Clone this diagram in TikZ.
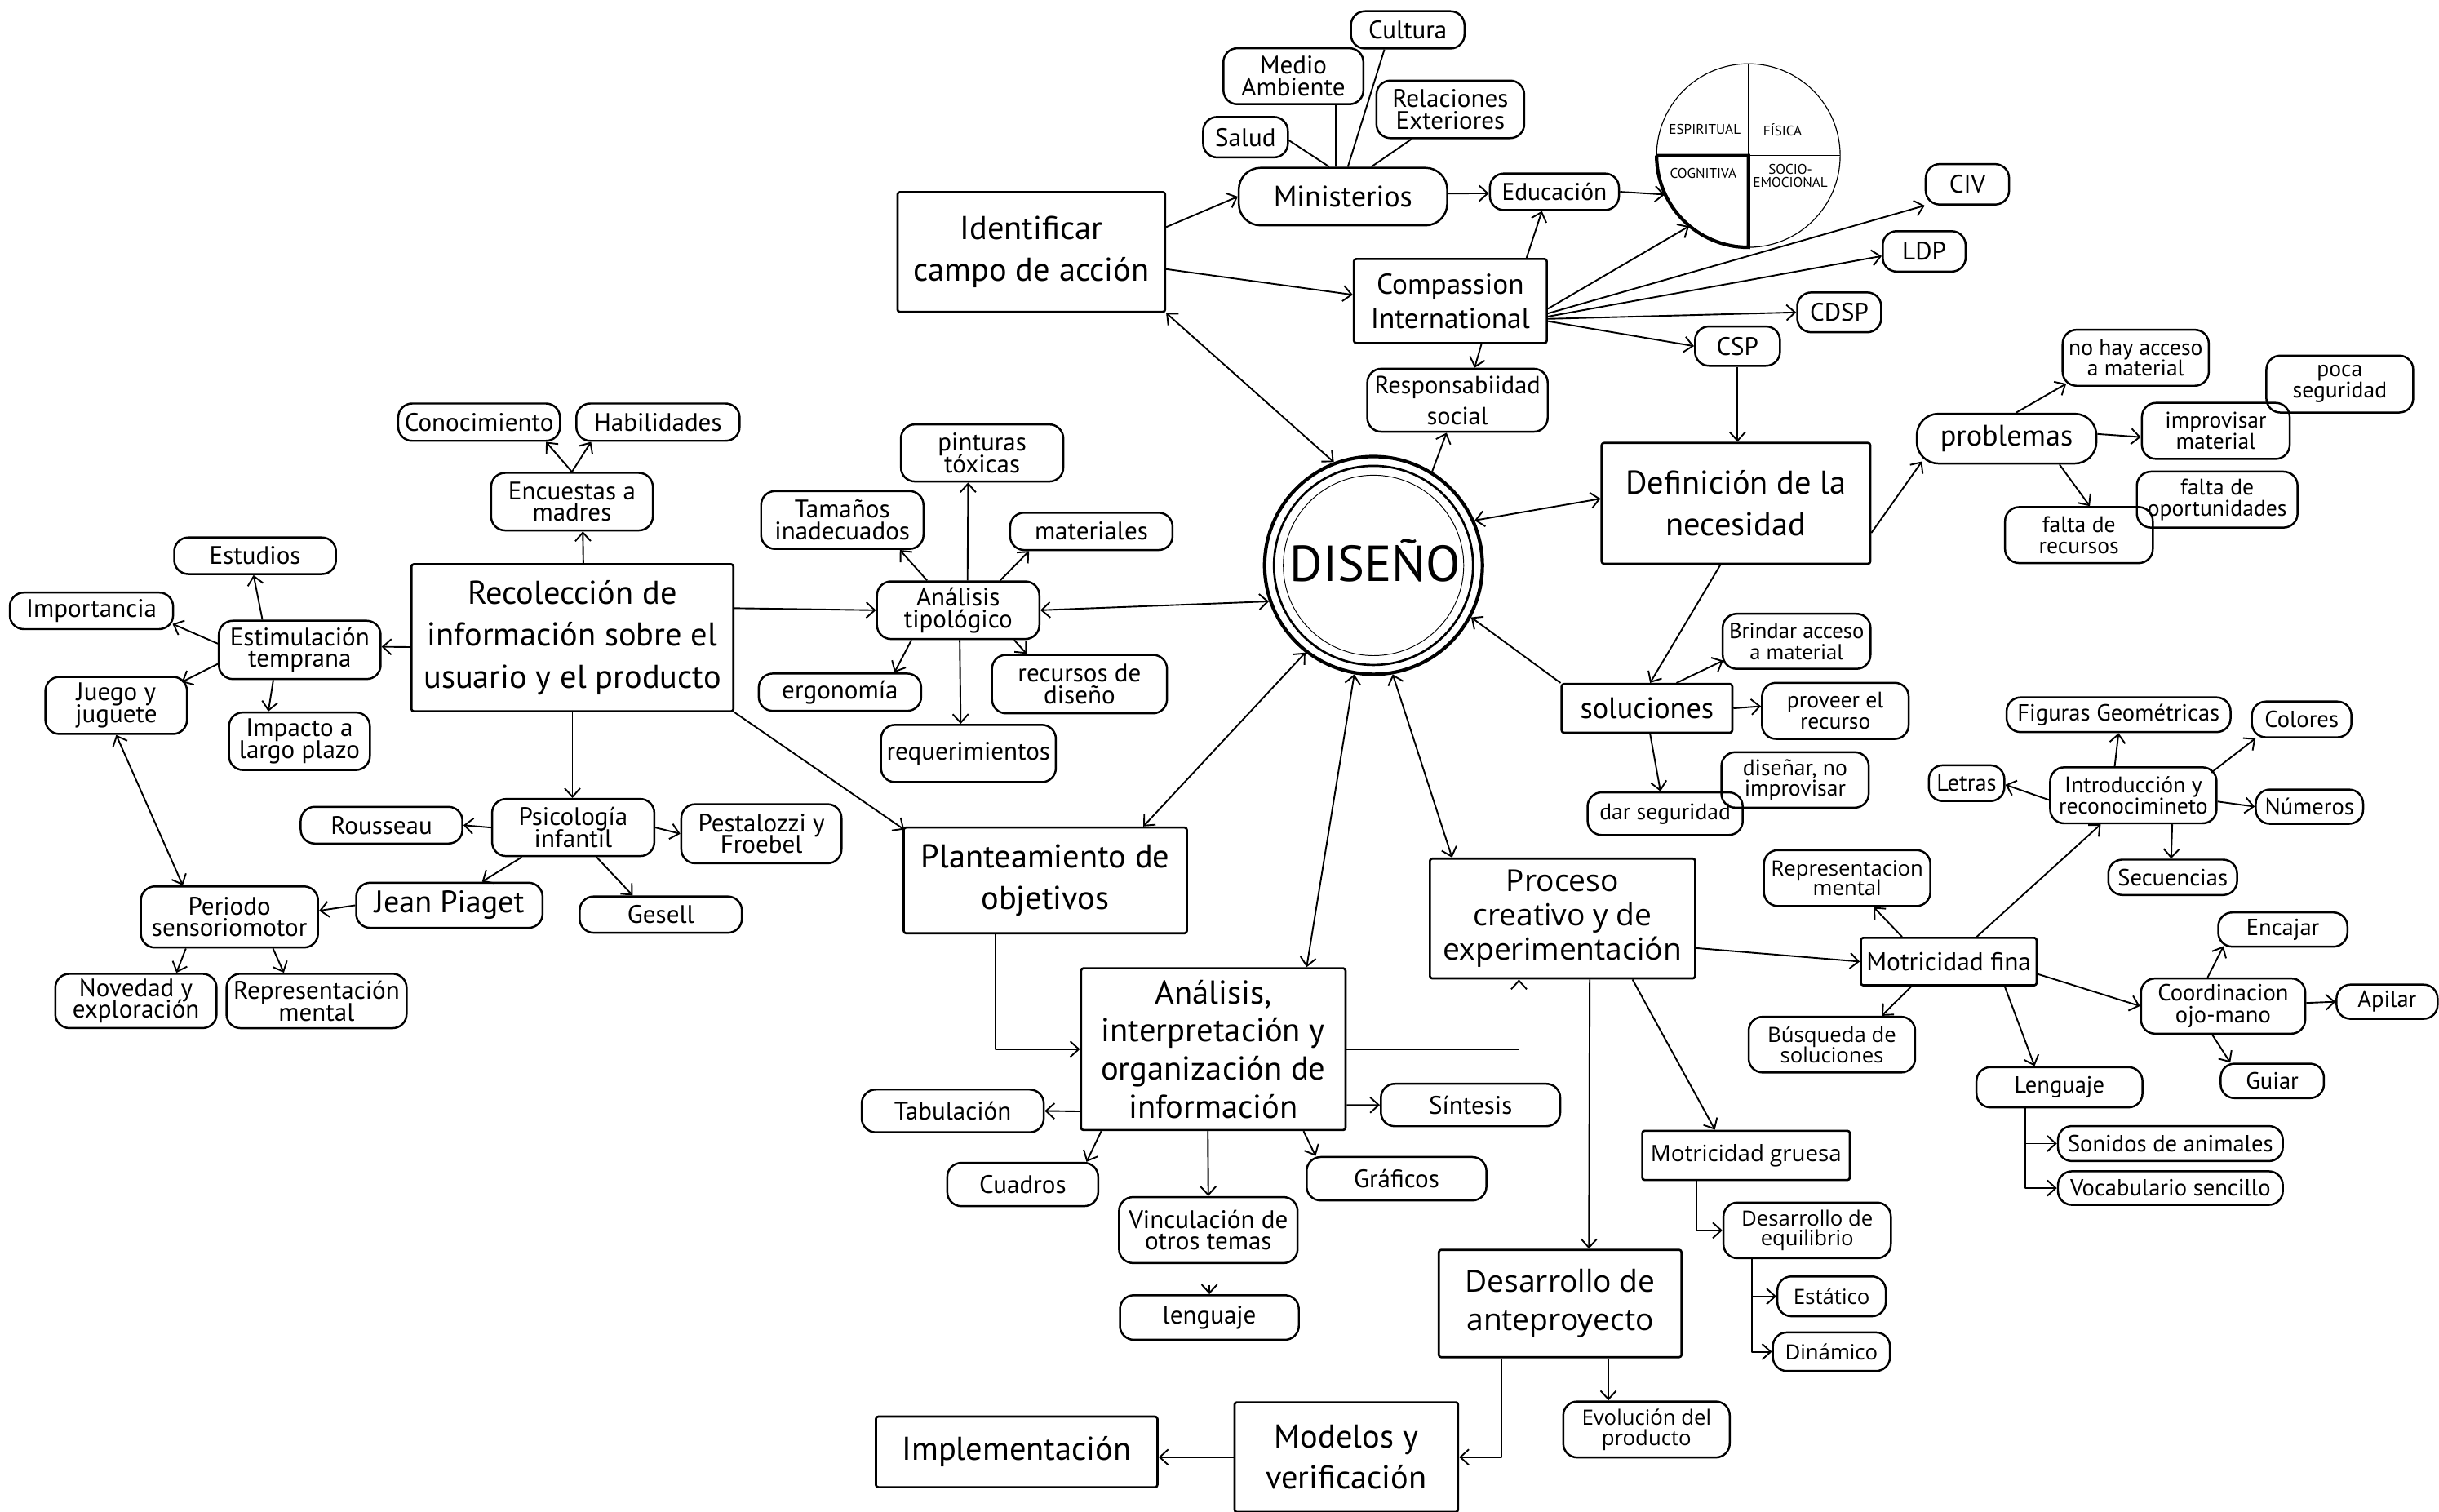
\documentclass[tikz,border=0pt]{standalone}
\usepackage{fontspec}
\setmainfont{PT Sans}
\newfontfamily\widefont{Open Sans}
\usetikzlibrary{arrows.meta,calc}
\newcommand\myfz[2]{\fontsize{#1}{#2}\selectfont\lineskiplimit=-100pt\relax}
\tikzset{
 box/.style={draw, line width=1.4pt, rounded corners=1.5pt, align=center, inner sep=0pt},
 rb/.style={draw, line width=1.3pt, rounded corners=9pt, align=center, inner sep=0pt},
 big/.style={box, font=\myfz{21.2}{27}},
 sm/.style={rb, font=\myfz{16.3}{14}},
 ws/.style={rb, font={\widefont\myfz{13.5}{13}}},
 arr/.style={line width=1pt, -{Straight Barb[length=5.5pt,width=10pt]}},
 darr/.style={line width=1pt, {Straight Barb[length=5.5pt,width=10pt]}-{Straight Barb[length=5.5pt,width=10pt]}},
 ln/.style={line width=1pt},
 lab/.style={font=\myfz{9}{8.5}, align=center, inner sep=0pt},
}
\begin{document}
\begin{tikzpicture}[x=1pt, y=-1pt, line join=round]
\useasboundingbox (0,0) rectangle (1568,972);

% ---------------- top cluster
\node[sm, minimum width=73, minimum height=24] (cult) at (905,19.2) {Cultura};
\node[sm, minimum width=90, minimum height=36] (med) at (831.5,49) {Medio\\Ambiente};
\node[sm, minimum width=95, minimum height=37] (rel) at (932.4,70.3) {Relaciones\\Exteriores};
\node[sm, minimum width=54.5, minimum height=26] (sal) at (800.7,88.2) {Salud};
\node[rb, rounded corners=14pt, minimum width=134, minimum height=37, font=\myfz{19}{20}] (mini) at (863.4,126.4) {Ministerios};
\node[sm, minimum width=83, minimum height=23.5, font=\myfz{15.5}{14}] (edu) at (999.3,123.3) {Educación};
\node[big, minimum width=172, minimum height=77] (ident) at (663,162) {Identificar\\campo de acción};
\node[box, minimum width=124, minimum height=54, font=\myfz{18.5}{22}] (comp) at (932.4,193.5) {Compassion\\International};
\node[rb, minimum width=116, minimum height=40.5, font=\myfz{16}{20}] (resp) at (937,257.3) {Responsabiidad\\social};
\node[sm, minimum width=53.6, minimum height=26] (civ) at (1264.8,118.5) {CIV};
\node[sm, minimum width=53.3, minimum height=26] (ldp) at (1237,161.6) {LDP};
\node[sm, minimum width=54, minimum height=25.6] (cdsp) at (1182.4,200.8) {CDSP};
\node[sm, minimum width=54.6, minimum height=25.3] (csp) at (1117,222.5) {CSP};

% quadrant circle
\node[circle, draw, line width=0.6pt, minimum size=118, inner sep=0pt] (circ) at (1124,100) {};
\draw[line width=0.6pt] (1124,41) -- (1124,159);
\draw[line width=0.6pt] (1065,100) -- (1183,100);
\draw[line width=2.2pt, line join=miter] (1065,100) -- (1124,100) -- (1124,159) arc[start angle=90, end angle=180, radius=59];
\node[lab] at (1096,83.3) {ESPIRITUAL};
\node[lab] at (1146,83.3) {FÍSICA};
\node[lab] at (1095,111.5) {COGNITIVA};
\node[lab] at (1151,113) {SOCIO-\\EMOCIONAL};

% ---------------- DISEÑO
\node[circle, draw, line width=2.2pt, minimum size=140, inner sep=0pt] (dis) at (883,363.5) {};
\draw[line width=1.4pt] (dis.center) circle[radius=64];
\draw[line width=0.5pt] (dis.center) circle[radius=58];
\node[anchor=base, font=\myfz{32.5}{33}, inner sep=0pt] (distxt) at (884,374) {DISEÑO};

% ---------------- necesidad
\node[big, minimum width=172.7, minimum height=77.7] (def) at (1116,323.6) {Definición de la\\necesidad};
\node[rb, rounded corners=14pt, minimum width=115.5, minimum height=32, font=\myfz{19}{20}] (prob) at (1290,282) {problemas};
\node[rb, minimum width=94, minimum height=36, font=\myfz{14.5}{13.5}] (nohay) at (1373,230) {no hay acceso\\a material};
\node[rb, minimum width=94.4, minimum height=36.6, font=\myfz{14.5}{13.5}] (poca) at (1504.2,246.9) {poca\\seguridad};
\node[rb, minimum width=95, minimum height=36, font=\myfz{14.5}{13.5}] (improv) at (1424.5,277) {improvisar\\material};
\node[rb, minimum width=103.3, minimum height=36, font=\myfz{14.5}{13.5}] (faltop) at (1425.4,321.2) {falta de\\oportunidades};
\node[rb, minimum width=95, minimum height=36, font=\myfz{14.5}{13.5}] (faltrec) at (1336.5,344) {falta de\\recursos};

\node[box, minimum width=109.7, minimum height=31.3, font=\myfz{19}{20}] (sol) at (1058.8,455.4) {soluciones};
\node[rb, minimum width=95, minimum height=35.4, font=\myfz{14}{13.5}] (brin) at (1155,412.3) {Brindar acceso\\a material};
\node[rb, minimum width=94.3, minimum height=36.1, font=\myfz{14.5}{13.5}] (prov) at (1179.9,457) {proveer el\\recurso};
\node[rb, minimum width=94.7, minimum height=35.7, font=\myfz{14.5}{13.5}] (dise) at (1154,501.4) {diseñar, no\\improvisar};
\node[rb, minimum width=99.7, minimum height=27.4, font=\myfz{14.5}{13.5}] (dar) at (1070.5,523.1) {dar seguridad};

% ---------------- left cluster
\node[big, minimum width=207, minimum height=94.5] (rec) at (368,410) {Recolección de\\información sobre el\\usuario y el producto};
\node[sm, minimum width=104, minimum height=37] (enc) at (367.7,322.5) {Encuestas a\\madres};
\node[sm, minimum width=104, minimum height=24] (cono) at (308,271.4) {Conocimiento};
\node[sm, minimum width=105, minimum height=24] (hab) at (423,271.4) {Habilidades};
\node[sm, minimum width=104, minimum height=23.5] (estu) at (164,357.3) {Estudios};
\node[sm, minimum width=105, minimum height=23.5] (imp) at (58.8,392.7) {Importancia};
\node[sm, minimum width=104, minimum height=37.5] (estim) at (192.7,417.8) {Estimulación\\temprana};
\node[sm, minimum width=91, minimum height=36.7] (juego) at (74.7,453.5) {Juego y\\juguete};
\node[sm, minimum width=90.6, minimum height=37] (impa) at (192.5,476.5) {Impacto a\\largo plazo};
\node[sm, minimum width=104.3, minimum height=36.7] (psi) at (368.5,532) {Psicología\\infantil};
\node[sm, minimum width=104, minimum height=23.6] (rou) at (245.3,530.5) {Rousseau};
\node[sm, minimum width=103, minimum height=38] (pest) at (489.5,536) {Pestalozzi y\\Froebel};
\node[rb, minimum width=119.8, minimum height=29, font=\myfz{20}{20}] (piag) at (288.9,582) {Jean Piaget};
\node[sm, minimum width=104.3, minimum height=23.3] (ges) at (424.8,588) {Gesell};
\node[sm, minimum width=113.9, minimum height=39.3] (per) at (147.5,589.5) {Periodo\\sensoriomotor};
\node[sm, minimum width=103.7, minimum height=34.9] (nov) at (87.4,643.5) {Novedad y\\exploración};
\node[sm, minimum width=115.8, minimum height=35] (repl) at (203.5,643.5) {Representación\\mental};

% ---------------- tipologico
\node[sm, minimum width=104.4, minimum height=36.7] (pint) at (631.4,291.2) {pinturas\\tóxicas};
\node[sm, minimum width=104.4, minimum height=37.2] (tam) at (541.5,334.3) {Tamaños\\inadecuados};
\node[sm, minimum width=104.4, minimum height=24] (mat) at (701.6,341.6) {materiales};
\node[sm, minimum width=104.4, minimum height=37] (tipo) at (616,392.3) {Análisis\\tipológico};
\node[sm, minimum width=104.4, minimum height=24] (erg) at (540,445) {ergonomía};
\node[sm, minimum width=112.5, minimum height=37.6] (recd) at (694,439.8) {recursos de\\diseño};
\node[sm, minimum width=112.4, minimum height=36.8] (req) at (622.6,484.4) {requerimientos};

% ---------------- center bottom
\node[big, minimum width=182, minimum height=68] (plan) at (672,566) {Planteamiento de\\objetivos};
\node[box, minimum width=170, minimum height=104, font=\myfz{21.3}{24.5}] (anal) at (780,674.5) {Análisis,\\interpretación y\\organización de\\información};
\node[sm, minimum width=117, minimum height=27.5] (tab) at (612.5,714.2) {Tabulación};
\node[sm, minimum width=115.3, minimum height=27.3] (sin) at (945.4,710.4) {Síntesis};
\node[sm, minimum width=97, minimum height=27.8] (cuad) at (657.5,761.5) {Cuadros};
\node[sm, minimum width=115.6, minimum height=27.9] (graf) at (897.8,757.8) {Gráficos};
\node[sm, minimum width=114.8, minimum height=42.4] (vinc) at (776.8,790.8) {Vinculación de\\otros temas};
\node[sm, minimum width=115, minimum height=28.7] (leng2) at (777.5,847) {lenguaje};

% ---------------- proceso cluster
\node[box, minimum width=170.5, minimum height=77, font={\widefont\myfz{19.5}{22}}] (proc) at (1004.5,590.5) {Proceso\\creativo y de\\experimentación};
\node[box, minimum width=113, minimum height=30.5, font=\myfz{16.5}{18}] (mf) at (1252.8,618.2) {Motricidad fina};
\node[ws, minimum width=107, minimum height=36] (repr) at (1187.5,564.5) {Representacion\\mental};
\node[ws, minimum width=107, minimum height=35.8] (busq) at (1177.7,671.6) {Búsqueda de\\soluciones};
\node[sm, minimum width=107, minimum height=36, font=\myfz{14.5}{14}] (intro) at (1371.5,511.3) {Introducción y\\reconocimineto};
\node[sm, minimum width=144, minimum height=22.3, font=\myfz{15}{14}] (fig) at (1362,459.5) {Figuras Geométricas};
\node[sm, minimum width=64, minimum height=23, font=\myfz{15}{14}] (col) at (1479.7,462.5) {Colores};
\node[sm, minimum width=48.6, minimum height=23, font=\myfz{15}{14}] (let) at (1264.3,503.5) {Letras};
\node[sm, minimum width=69, minimum height=22, font=\myfz{15}{14}] (num) at (1484.7,518.6) {Números};
\node[sm, minimum width=82.8, minimum height=22.7, font=\myfz{15}{14}] (sec) at (1396.8,564) {Secuencias};
\node[sm, minimum width=105.6, minimum height=35.5, font=\myfz{15}{14}] (coord) at (1429.2,646.8) {Coordinacion\\ojo-mano};
\node[sm, minimum width=83, minimum height=22, font=\myfz{15}{14}] (enc2) at (1467.6,597.6) {Encajar};
\node[sm, minimum width=65, minimum height=22, font=\myfz{15}{14}] (api) at (1534.6,644) {Apilar};
\node[sm, minimum width=66.4, minimum height=22.2, font=\myfz{15}{14}] (gui) at (1460.8,694.9) {Guiar};
\node[sm, minimum width=106.7, minimum height=25.9, font=\myfz{15}{14}] (len) at (1324,699) {Lenguaje};
\node[sm, minimum width=144.6, minimum height=22.5, font=\myfz{15}{14}] (son) at (1395.3,735.2) {Sonidos de animales};
\node[sm, minimum width=144.6, minimum height=21.6, font=\myfz{15}{14}] (voc) at (1395.3,763.8) {Vocabulario sencillo};

\node[box, minimum width=133.4, minimum height=31.6, font={\widefont\myfz{14.5}{16}}] (mg) at (1122.5,742.8) {Motricidad gruesa};
\node[ws, minimum width=107.6, minimum height=35.8] (eq) at (1161.8,791) {Desarrollo de\\equilibrio};
\node[ws, minimum width=69.7, minimum height=25.6] (esta) at (1177.5,833.4) {Estático};
\node[ws, minimum width=75.3, minimum height=24.8] (dina) at (1177.4,869) {Dinámico};
\node[box, minimum width=156, minimum height=69, font={\widefont\myfz{19.5}{25}}] (des) at (1003,838) {Desarrollo de\\anteproyecto};
\node[ws, minimum width=107, minimum height=36] (evol) at (1058.5,919) {Evolución del\\producto};
\node[big, minimum width=143.7, minimum height=70.5, font=\myfz{21.2}{26}] (mod) at (865.5,936.8) {Modelos y\\verificación};
\node[big, minimum width=181, minimum height=45.4] (impl) at (653.6,933.4) {Implementación};

% ================= connectors
% ministerios lines
\draw[ln] ($(mini.north)+(-8.8,0)$) -- ($(sal.east)+(0,2)$);
\draw[ln] ($(mini.north)+(-4.6,0)$) -- ($(med.south)+(27.3,0)$);
\draw[ln] ($(mini.north)+(3.1,0)$) -- ($(cult.south)+(-15,0)$);
\draw[ln] ($(mini.north)+(18.2,0)$) -- ($(rel.south)+(-25,0)$);

\draw[arr] ($(ident.east)+(0,-16)$) -- (mini.west);
\draw[arr] ($(ident.east)+(0,11)$) -- ($(comp.west)+(0,-4)$);
\draw[arr] ($(mini.east)+(0,-2)$) -- ($(edu.west)+(0,1)$);
\draw[arr] (edu.east) -- (circ.205);
\draw[arr] ($(comp.north)+(49,0)$) -- ($(edu.south)+(-8,0)$);
\draw[arr] ($(comp.east)+(0,5)$) -- (circ.230);
\draw[arr] ($(comp.east)+(0,8)$) -- (civ.south west);
\draw[arr] ($(comp.east)+(0,10)$) -- ($(ldp.west)+(0,3)$);
\draw[arr] ($(comp.east)+(0,11.5)$) -- (cdsp.west);
\draw[arr] ($(comp.east)+(0,13)$) -- (csp.west);
\draw[arr] ($(comp.south)+(20,0)$) -- ($(resp.north)+(11,0)$);
\draw[darr] (ident.south east) -- (dis.111);
\draw[arr] (dis.58) -- ($(resp.south)+(-7,0)$);
\draw[arr] (csp.south) -- (csp.south |- def.north);
\draw[darr] (dis.24) -- ($(def.west)+(0,-3)$);
\draw[arr] ($(def.east)+(0,19)$) -- ($(prob.south west)+(4,-2)$);
\draw[arr] ($(prob.north)+(6,0)$) -- ($(nohay.south west)+(3,-2)$);
\draw[arr] ($(prob.east)+(0,-3)$) -- ($(improv.west)+(0,4)$);
\draw[arr] ($(prob.south)+(34,0)$) -- ($(faltrec.north)+(7,0)$);

% left
\draw[arr] ($(rec.north)+(7,0)$) -- ($(enc.south)+(7,0)$);
\draw[arr] (enc.north) -- ($(cono.south)+(43,0)$);
\draw[arr] (enc.north) -- ($(hab.south)+(-43,0)$);
\draw[arr] ($(rec.west)+(0,6)$) -- ($(estim.east)+(0,-2)$);
\draw[arr] ($(estim.north)+(-24,0)$) -- ($(estu.south)+(-1,0)$);
\draw[arr] ($(estim.west)+(0,-4)$) -- ($(imp.south east)+(-1,-4)$);
\draw[arr] ($(estim.west)+(0,9)$) -- ($(juego.north east)+(-4,4)$);
\draw[arr] ($(estim.south)+(-17,0)$) -- ($(impa.north)+(-20,0)$);
\draw[arr] (rec.south) -- (rec.south |- psi.north);
\draw[arr] (psi.west) -- (rou.east);
\draw[arr] (psi.east) -- (pest.west);
\draw[arr] ($(psi.south)+(-33,0)$) -- ($(piag.north)+(21,0)$);
\draw[arr] ($(psi.south)+(15,0)$) -- ($(ges.north)+(-18,0)$);
\draw[arr] (piag.west) -- ($(per.east)+(0,-4)$);
\draw[darr] (juego.south) -- ($(per.north)+(-30,0)$);
\draw[arr] ($(per.south)+(-28,0)$) -- ($(nov.north)+(26,0)$);
\draw[arr] ($(per.south)+(28,0)$) -- ($(repl.north)+(-21,0)$);

% tipologico
\draw[arr] ($(rec.east)+(0,-19)$) -- (tipo.west);
\draw[darr] (tipo.east) -- (dis.199);
\draw[arr] ($(tipo.north)+(6,0)$) -- ($(pint.south)+(-9,0)$);
\draw[arr] ($(tipo.north)+(-20,0)$) -- ($(tam.south)+(37,0)$);
\draw[arr] ($(tipo.north)+(27,0)$) -- ($(mat.south)+(-40,0)$);
\draw[arr] ($(tipo.south)+(-30,0)$) -- ($(erg.north)+(35,0)$);
\draw[arr] ($(tipo.south)+(1,0)$) -- ($(req.north)+(-5,0)$);
\draw[arr] ($(tipo.south)+(36,0)$) -- ($(recd.north)+(-34,0)$);

% center
\draw[arr] (rec.south east) -- ($(plan.north west)+(1,2)$);
\draw[darr] (dis.232) -- ($(plan.north)+(63,0)$);
\draw[arr] ($(plan.south)+(-32,0)$) |- (anal.west);
\draw[darr] (dis.260) -- ($(anal.north)+(60,0)$);
\draw[arr] (anal.east) -| ($(proc.south)+(-28,0)$);
\draw[darr] (dis.280) -- ($(proc.north)+(-71,0)$);
\draw[arr] (sol.north west) -- (dis.332);
\draw[arr] ($(def.south)+(-10,0)$) -- ($(sol.north)+(2,0)$);
\draw[arr] ($(sol.north)+(19,0)$) -- ($(brin.south west)+(1,-6)$);
\draw[arr] (sol.east) -- ($(prov.west)+(0,-3)$);
\draw[arr] ($(sol.south)+(2,0)$) -- ($(dar.north)+(-3,0)$);

\draw[arr] ($(anal.west)+(0,40)$) -- (tab.east);
\draw[arr] ($(anal.east)+(0,36)$) -- (sin.west);
\draw[arr] ($(anal.south)+(-72,0)$) -- ($(cuad.north)+(41,0)$);
\draw[arr] ($(anal.south)+(-3.5,0)$) -- (vinc.north);
\draw[arr] ($(anal.south)+(58,0)$) -- ($(graf.north)+(-52,0)$);
\draw[arr] ($(leng2.north)+(0,-6)$) -- (leng2.north);

% proceso
\draw[arr] ($(proc.east)+(0,19)$) -- (mf.west);
\draw[arr] ($(mf.north)+(-30,0)$) -- ($(repr.south)+(17,0)$);
\draw[arr] ($(mf.south)+(-24,0)$) -- ($(busq.north)+(32,0)$);
\draw[arr] ($(mf.north)+(18,0)$) -- ($(intro.south)+(-21,0)$);
\draw[arr] ($(intro.north)+(-12,0)$) -- (fig.south);
\draw[arr] ($(intro.north east)+(-4,4)$) -- ($(col.south west)+(3,0)$);
\draw[arr] ($(intro.west)+(0,3)$) -- ($(let.east)+(0,1)$);
\draw[arr] ($(intro.east)+(0,4)$) -- (num.west);
\draw[arr] ($(intro.south)+(25,0)$) -- ($(sec.north)+(-1,0)$);
\draw[arr] ($(mf.east)+(0,8)$) -- (coord.west);
\draw[arr] ($(coord.north)+(-10,0)$) -- ($(enc2.south west)+(4,-1)$);
\draw[arr] ($(coord.east)+(0,-2)$) -- (api.west);
\draw[arr] ($(coord.south)+(-7,0)$) -- ($(gui.north)+(-27,0)$);
\draw[arr] ($(mf.south)+(36,0)$) -- ($(len.north)+(-16,0)$);
\draw[arr] ($(len.south)+(-22,0)$) |- (son.west);
\draw[arr] ($(len.south)+(-22,0)$) |- (voc.west);

\draw[arr] ($(proc.south)+(17.5,0)$) -- ($(des.north)+(18.5,0)$);
\draw[arr] ($(proc.south)+(45,0)$) -- ($(mg.north)+(-20,0)$);
\draw[arr] ($(mg.south)+(-32,0)$) |- (eq.west);
\draw[arr] ($(eq.south)+(-35.5,0)$) |- (esta.west);
\draw[arr] ($(eq.south)+(-35.5,0)$) |- (dina.west);
\draw[arr] ($(des.south)+(31,0)$) -- ($(evol.north)+(-24.5,0)$);
\draw[arr] ($(des.south)+(-38,0)$) |- (mod.east);
\draw[arr] (mod.west) -- (mod.west -| impl.east);
\end{tikzpicture}
\end{document}
